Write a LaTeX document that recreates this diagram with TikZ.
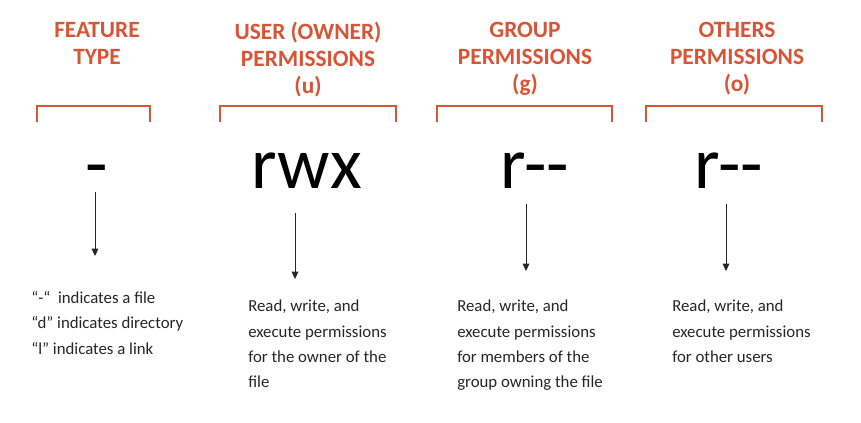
\documentclass[tikz,border=0pt]{standalone}
\usepackage{fontspec}
\setmainfont{Carlito}
\usepackage{tikz}
\usetikzlibrary{positioning,arrows.meta}

\definecolor{titlered}{RGB}{216,84,54}

\begin{document}
\begin{tikzpicture}[x=0.75pt,y=0.75pt,yscale=-1,xscale=1,
  title/.style={anchor=north,inner sep=0pt,align=center,text=titlered,font=\fontsize{17.5}{20.3}\selectfont\bfseries},
  bracket/.style={draw=titlered,line width=2.2pt},
  symb/.style={anchor=base,inner sep=0pt,font=\fontsize{55}{60}\selectfont},
  arr/.style={draw=black!85,line width=0.7pt,-{Triangle[length=5.5pt,width=5pt]}},
  desc/.style={anchor=north west,inner sep=0pt,align=left,text=black!85,font=\fontsize{12.6}{19}\selectfont}]
\useasboundingbox (0,0) rectangle (861,422);

% Text Node
\node[title] (tfeat) at (97,22) {FEATURE\\TYPE};
% Text Node
\node[title] (tuser) at (308,22) {USER (OWNER)\\PERMISSIONS\\(u)};
% Text Node
\node[title] (tgroup) at (525,22) {GROUP\\PERMISSIONS\\(g)};
% Text Node
\node[title] (tothers) at (737,22) {OTHERS\\PERMISSIONS\\(o)};

%Shape: Brackets
\draw[bracket] (37,122) -- (37,106) -- (150,106) -- (150,122);
\draw[bracket] (220,122) -- (220,106) -- (396,106) -- (396,122);
\draw[bracket] (437,122) -- (437,106) -- (612,106) -- (612,122);
\draw[bracket] (646,122) -- (646,106) -- (822,106) -- (822,122);

% Text Node
\node[symb] (sfeat) at (97,188) {-};
% Text Node
\node[symb] (suser) at (307,188) {rwx};
% Text Node
\node[symb] (sgroup) at (535,188) {r-{}-};
% Text Node
\node[symb] (sothers) at (729,188) {r-{}-};

%Straight Lines
\coordinate (afeat) at (95,192);
\coordinate (bfeat) at (95,256);
\coordinate (auser) at (295,213);
\coordinate (buser) at (295,279);
\coordinate (agroup) at (526,204);
\coordinate (bgroup) at (526,271);
\coordinate (aothers) at (726,204);
\coordinate (bothers) at (726,271);
\draw[arr] (afeat) -- (bfeat);
\draw[arr] (auser) -- (buser);
\draw[arr] (agroup) -- (bgroup);
\draw[arr] (aothers) -- (bothers);

% Text Node
\node[desc] (dfeat) at (31,291) {“-“\ \ indicates a file\\“d” indicates directory\\“l” indicates a link};
% Text Node
\node[desc] (duser) at (248,300) {Read, write, and\\execute permissions\\for the owner of the\\file};
% Text Node
\node[desc] (dgroup) at (457,300) {Read, write, and\\execute permissions\\for members\ of the\\group owning the file};
% Text Node
\node[desc] (dothers) at (672,300) {Read, write, and\\execute permissions\\for other users};
\end{tikzpicture}
\end{document}
